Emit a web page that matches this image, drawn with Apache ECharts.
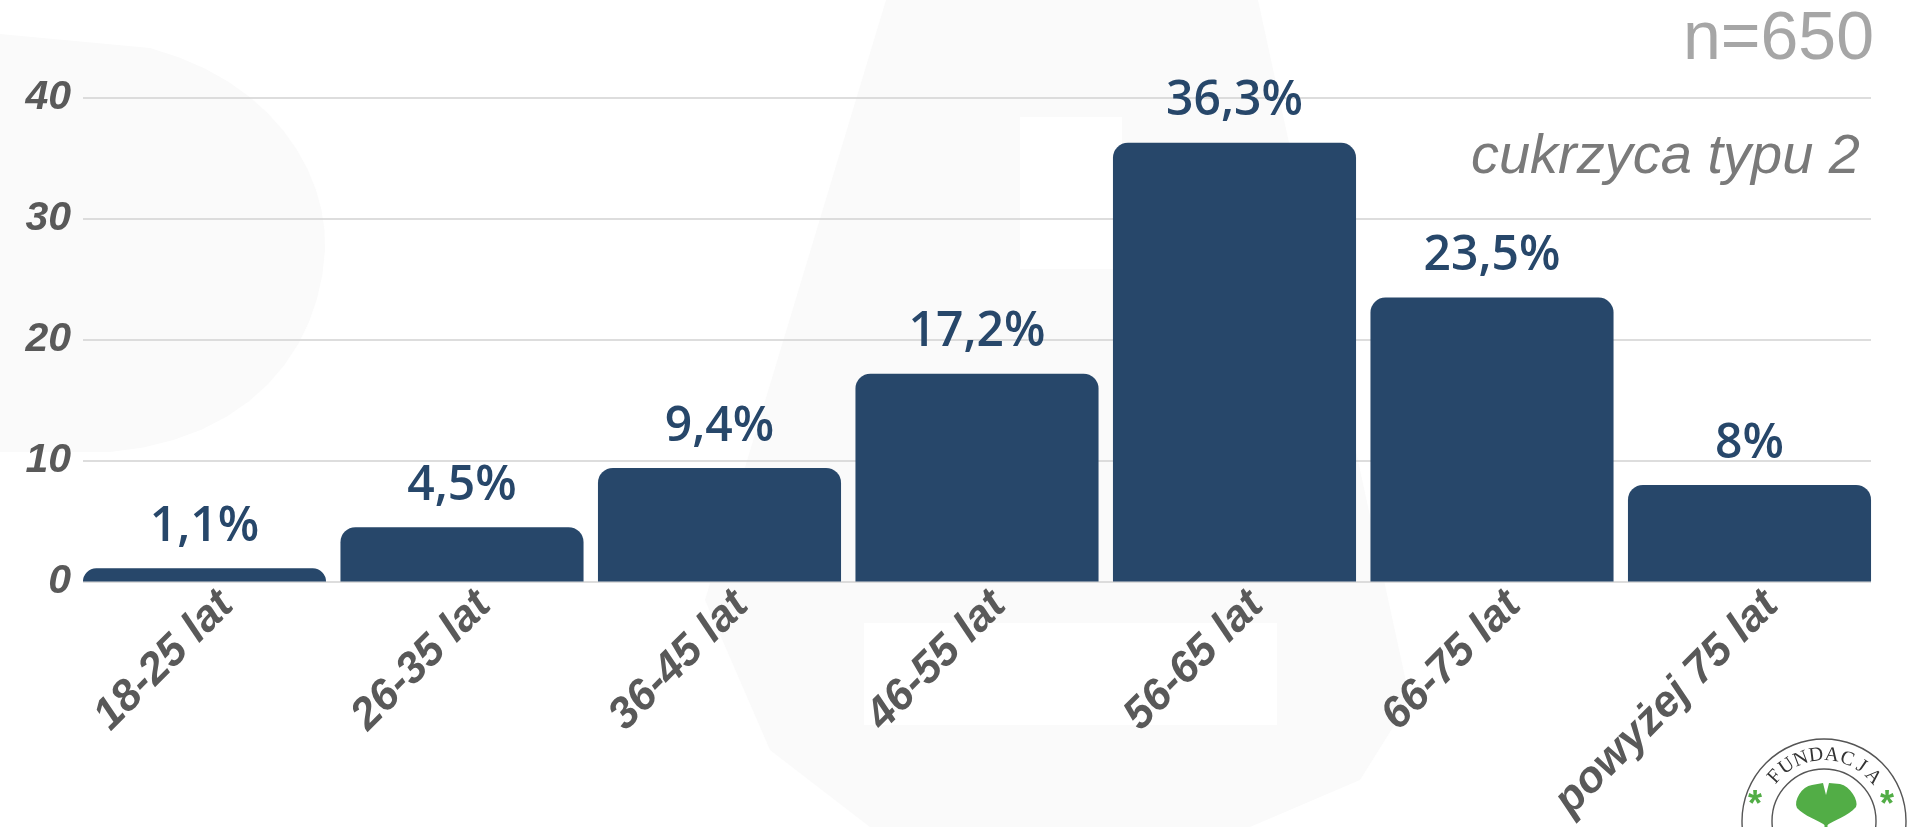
<!DOCTYPE html>
<html>
<head>
<meta charset="utf-8">
<style>
  html, body { margin: 0; padding: 0; background: #ffffff; }
  #chart { width: 1916px; height: 827px; }
</style>
<script src="https://cdn.jsdelivr.net/npm/echarts@6/dist/echarts.min.js"></script>
</head>
<body>
<div id="chart"></div>
<script>
// Age groups of respondents with type 2 diabetes (share in %)
const categories = ['18-25 lat', '26-35 lat', '36-45 lat', '46-55 lat', '56-65 lat', '66-75 lat', 'powyżej 75 lat'];
const shares = [1.1, 4.5, 9.4, 17.2, 36.3, 23.5, 8];
const yTicks = [0, 10, 20, 30, 40];
const sampleLabel = 'n=650';
const groupLabel = 'cukrzyca typu 2';
const logoWord = 'FUNDACJA';

const NAVY = '#27476a';
const AXIS_GREY = '#595959';
const GREEN = '#52ad46';

const chart = echarts.init(document.getElementById('chart'), null, { renderer: 'canvas' });

const yMin = yTicks[0];
const yMax = yTicks[yTicks.length - 1];
const yStep = yTicks[1] - yTicks[0];

// sample a cubic Bezier segment into polygon points
function cubic(p0, p1, p2, p3, n) {
  const pts = [];
  for (let i = 1; i <= n; i++) {
    const t = i / n, u = 1 - t;
    pts.push([
      u * u * u * p0[0] + 3 * u * u * t * p1[0] + 3 * u * t * t * p2[0] + t * t * t * p3[0],
      u * u * u * p0[1] + 3 * u * u * t * p1[1] + 3 * u * t * t * p2[1] + t * t * t * p3[1]
    ]);
  }
  return pts;
}

// Logo geometry: two rings, arced name, two asterisks and a ginkgo leaf
const logoCx = 1824, logoCy = 821, logoR = 66;
const leafBase = [1826, 826];
function lp(x, y) { return [leafBase[0] + x, leafBase[1] + y]; }
const leafShape = [lp(0, 0)]
  .concat(cubic(lp(0, 0), lp(-8, -6), lp(-22, -10), lp(-29, -18), 8))
  .concat(cubic(lp(-29, -18), lp(-33, -25), lp(-24, -40), lp(-14, -41), 8))
  .concat([lp(-3, -43), lp(0, -31), lp(3, -43), lp(14, -42)])
  .concat(cubic(lp(14, -42), lp(24, -40), lp(33, -25), lp(30, -19), 8))
  .concat(cubic(lp(30, -19), lp(22, -10), lp(8, -6), lp(0, 0), 8));

const letterEls = [];
const span = 96 * Math.PI / 180;
for (let i = 0; i < logoWord.length; i++) {
  const t = -span / 2 + span * i / (logoWord.length - 1);
  letterEls.push({
    type: 'text',
    x: logoCx + logoR * Math.sin(t),
    y: logoCy - logoR * Math.cos(t),
    rotation: -t,
    z: 10,
    style: {
      text: logoWord[i],
      font: '20px "Liberation Serif"',
      fill: '#333333',
      align: 'center',
      verticalAlign: 'middle'
    }
  });
}

// faint watermark shapes behind the plot
const blob = [[0, 34], [150, 48]]
  .concat(cubic([150, 48], [270, 80], [328, 170], [325, 250], 12))
  .concat(cubic([325, 250], [320, 350], [250, 440], [110, 452], 12))
  .concat([[0, 452]]);
const bigMark = [[886, 0], [1258, 0], [1410, 700], [1360, 780], [1250, 827], [870, 827], [770, 750], [705, 600]];

const plotTop = 98;
const plotBottom = 245.4;

const option = {
  backgroundColor: '#ffffff',
  animation: false,
  graphic: [
    { type: 'polygon', z: -10, silent: true, shape: { points: blob }, style: { fill: '#fafafa' } },
    { type: 'polygon', z: -10, silent: true, shape: { points: bigMark }, style: { fill: '#fafafa' } },
    { type: 'rect', z: -9, silent: true, shape: { x: 1020, y: 117, width: 102, height: 152 }, style: { fill: '#ffffff' } },
    { type: 'rect', z: -9, silent: true, shape: { x: 864, y: 623, width: 413, height: 102 }, style: { fill: '#ffffff' } },
    // sample size and group captions
    {
      type: 'text', z: 5,
      style: {
        text: sampleLabel, x: 1874, y: 40,
        font: '68px "Liberation Sans"', fill: '#a6a6a6',
        align: 'right', verticalAlign: 'middle'
      }
    },
    {
      type: 'text', z: 5,
      style: {
        text: groupLabel, x: 1860, y: 157,
        font: 'italic 56px "Liberation Sans"', fill: '#7a7a7a',
        align: 'right', verticalAlign: 'middle'
      }
    },
    // logo
    { type: 'circle', z: 9, shape: { cx: logoCx, cy: logoCy, r: 82 }, style: { fill: '#ffffff', stroke: '#555555', lineWidth: 1.4 } },
    { type: 'circle', z: 9, shape: { cx: logoCx, cy: logoCy, r: 52 }, style: { fill: 'none', stroke: '#555555', lineWidth: 1.4 } },
    { type: 'text', z: 10, style: { text: '*', x: 1755, y: 806, font: 'bold 36px "Liberation Sans"', fill: GREEN, align: 'center', verticalAlign: 'middle' } },
    { type: 'text', z: 10, style: { text: '*', x: 1887, y: 806, font: 'bold 36px "Liberation Sans"', fill: GREEN, align: 'center', verticalAlign: 'middle' } },
    { type: 'polygon', z: 10, shape: { points: leafShape }, style: { fill: GREEN } },
    { type: 'rect', z: 10, shape: { x: 1824.5, y: 818, width: 3, height: 9 }, style: { fill: GREEN } }
  ].concat(letterEls),
  grid: [
    // value axis and its guide lines
    { left: 83, right: 45, top: plotTop, bottom: plotBottom },
    // bars (category bands reach half a gap past the guide lines)
    { left: 75.75, right: 37.75, top: plotTop, bottom: plotBottom },
    // category labels, nudged right of the band centres
    { left: 97.75, right: 15.75, top: plotTop, bottom: plotBottom }
  ],
  xAxis: [
    { gridIndex: 0, type: 'value', min: 0, max: 1, show: false },
    { gridIndex: 1, type: 'category', data: categories, show: false },
    {
      gridIndex: 2,
      type: 'category',
      data: categories,
      axisLine: { show: false },
      axisTick: { show: false },
      splitLine: { show: false },
      axisLabel: {
        rotate: 45,
        margin: 17,
        interval: 0,
        color: AXIS_GREY,
        fontFamily: 'Liberation Sans',
        fontStyle: 'italic',
        fontWeight: 'bold',
        fontSize: 44
      }
    }
  ],
  yAxis: [
    {
      gridIndex: 0,
      type: 'value',
      min: yMin,
      max: yMax,
      interval: yStep,
      axisLine: { show: false },
      axisTick: { show: false },
      splitLine: { show: true, lineStyle: { color: '#d2d2d2', width: 1.5 } },
      axisLabel: {
        margin: 12,
        color: AXIS_GREY,
        fontFamily: 'Liberation Sans',
        fontStyle: 'italic',
        fontWeight: 'bold',
        fontSize: 41
      }
    },
    { gridIndex: 1, type: 'value', min: yMin, max: yMax, interval: yStep, show: false, splitLine: { show: false } },
    { gridIndex: 2, type: 'value', min: yMin, max: yMax, interval: yStep, show: false, splitLine: { show: false } }
  ],
  series: [
    {
      type: 'bar',
      xAxisIndex: 1,
      yAxisIndex: 1,
      data: shares,
      barCategoryGap: '5.6%',
      itemStyle: { color: NAVY, borderRadius: [15, 15, 0, 0] },
      label: {
        show: true,
        position: 'top',
        distance: 17,
        color: NAVY,
        fontFamily: 'Open Sans',
        fontWeight: 600,
        fontSize: 48,
        formatter: p => String(p.value).replace('.', ',') + '%'
      },
      z: 3
    }
  ]
};

chart.setOption(option);
</script>
</body>
</html>
